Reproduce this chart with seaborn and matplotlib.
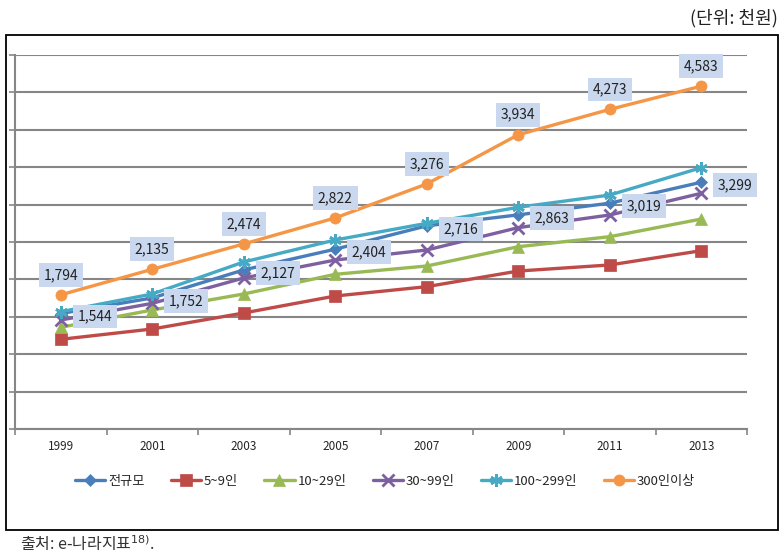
import numpy as np
import pandas as pd
import matplotlib
matplotlib.use('Agg')
import matplotlib.pyplot as plt
import matplotlib.patches as patches
import seaborn as sns

years = [1999, 2001, 2003, 2005, 2007, 2009, 2011, 2013]
series_names = ['전규모', '5~9인', '10~29인', '30~99인', '100~299인', '300인이상']

total = [1544, 1752, 2127, 2404, 2716, 2863, 3019, 3299]
size_5_9 = [1199, 1337, 1551, 1778, 1903, 2112, 2193, 2384]
size_10_29 = [1360, 1591, 1805, 2068, 2179, 2437, 2571, 2807]
size_30_99 = [1457, 1680, 2019, 2259, 2393, 2692, 2861, 3151]
size_100_299 = [1568, 1805, 2233, 2527, 2750, 2964, 3128, 3493]
size_300 = [1794, 2135, 2474, 2822, 3276, 3934, 4273, 4583]

values = [total, size_5_9, size_10_29, size_30_99, size_100_299, size_300]
colors = ['#4A7EBB', '#BE4B48', '#98B954', '#7D60A0', '#46AAC5', '#F59646']
markers = ['D', 's', '^', 'x', (6, 2, 0), 'o']
msizes = [6, 8, 8, 8, 9, 8]

sns.set_theme(style='white')
plt.rcParams['font.family'] = ['Noto Sans CJK KR', 'DejaVu Sans']

fig = plt.figure(figsize=(7.84, 5.58), dpi=100)
ax = fig.add_axes([15 / 784, 1 - 429 / 558, (747 - 15) / 784, (429 - 55) / 558])

for name, vals, c, m, ms in zip(series_names, values, colors, markers, msizes):
    df = pd.DataFrame({'year': years, 'value': vals})
    sns.lineplot(data=df, x='year', y='value', ax=ax, color=c, marker=m,
                 markersize=ms, markeredgewidth=2 if m in ('x', (6, 2, 0)) else 0.5,
                 markeredgecolor=c, linewidth=2.4, label=name)

ax.set_xlim(1998, 2014)
ax.set_ylim(0, 5000)
ax.set_yticks(np.arange(0, 5001, 500))
ax.set_yticklabels([])
ax.set_xticks(years)
ax.set_xticklabels([str(y) for y in years], fontsize=8.5)
ax.set_xticks(np.arange(1998, 2015, 2), minor=True)
ax.tick_params(axis='x', which='major', length=0, pad=8)
ax.tick_params(axis='x', which='minor', length=4, width=1.2, color='#868686', direction='out', bottom=True)
ax.tick_params(axis='y', length=4, width=1.2, color='#868686', direction='out', left=True)
ax.set_xlabel('')
ax.set_ylabel('')
ax.yaxis.grid(True, color='#868686', linewidth=1.5)
ax.set_axisbelow(True)
for s in ['top', 'right']:
    ax.spines[s].set_visible(False)
for s in ['left', 'bottom']:
    ax.spines[s].set_color('#868686')
    ax.spines[s].set_linewidth(1.5)

box = dict(boxstyle='square,pad=0.35', facecolor='#C9D8EE', edgecolor='none')
for x, v in zip(years, size_300):
    ax.annotate(f'{v:,}', (x, v), xytext=(0, 20), textcoords='offset pixels',
                ha='center', va='center', fontsize=10, color='#222222', bbox=box)
for x, v in zip(years, total):
    ax.annotate(f'{v:,}', (x, v), xytext=(34, -3), textcoords='offset pixels',
                ha='center', va='center', fontsize=10, color='#222222', bbox=box)

ax.legend(ncol=6, frameon=False, loc='center', bbox_to_anchor=(385 / 784, 1 - 481 / 558),
          bbox_transform=fig.transFigure, fontsize=9.5, handlelength=2.3,
          columnspacing=2.0, handletextpad=0.2)

fig.patches.append(patches.Rectangle((6 / 784, 1 - 530 / 558), 772 / 784, 495 / 558,
                                     transform=fig.transFigure, fill=False,
                                     edgecolor='black', linewidth=1.3))
fig.text(778 / 784, 1 - 18 / 558, '(단위: 천원)', ha='right', va='center', fontsize=13, color='#222222')
fig.text(20 / 784, 1 - 544 / 558, '출처: e-나라지표$^{18)}$.', ha='left', va='center', fontsize=11.5, color='#333333')

fig.savefig('out.png', dpi=100)
